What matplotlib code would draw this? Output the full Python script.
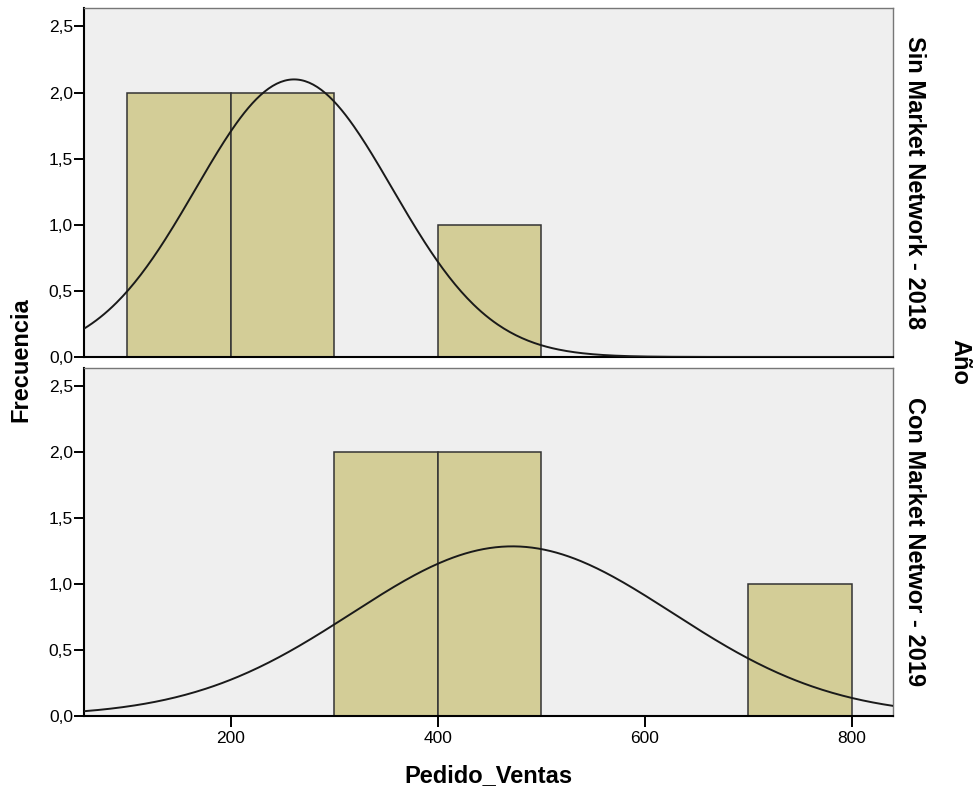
import numpy as np
import matplotlib.pyplot as plt

plt.rcParams['font.family'] = ['Liberation Sans', 'DejaVu Sans']

# histogram bins (Pedido_Ventas) and counts per panel
bin_edges = [100, 200, 300, 400, 500, 600, 700, 800]
counts_2018 = [2, 2, 0, 1, 0, 0, 0]
counts_2019 = [0, 0, 2, 2, 0, 0, 1]

# normal curve parameters (mean, std, n)
mean_2018, std_2018, n_2018 = 261, 95, 5
mean_2019, std_2019, n_2019 = 472, 155, 5

panel_labels = ["Sin Market Network - 2018", "Con Market Networ - 2019"]
yticks = [0.0, 0.5, 1.0, 1.5, 2.0, 2.5]
xticks = [200, 400, 600, 800]

bar_color = '#d3cd97'
bg_color = '#efefef'

fig = plt.figure(figsize=(9.76, 7.91), dpi=100)
ax1 = fig.add_axes([0.0861, 0.5487, 0.829, 0.4412])
ax2 = fig.add_axes([0.0861, 0.0948, 0.829, 0.4400])

xs = np.linspace(58, 840, 400)
panels = [(ax1, counts_2018, mean_2018, std_2018, n_2018),
          (ax2, counts_2019, mean_2019, std_2019, n_2019)]
for i, (ax, counts, mu, sd, n) in enumerate(panels):
    ax.set_facecolor(bg_color)
    widths = np.diff(bin_edges)
    for left, w, c in zip(bin_edges[:-1], widths, counts):
        if c > 0:
            ax.bar(left, c, width=w, align='edge', color=bar_color,
                   edgecolor='#333333', linewidth=1.1, zorder=2)
    bw = widths[0]
    curve = n * bw / (sd * np.sqrt(2 * np.pi)) * np.exp(-0.5 * ((xs - mu) / sd) ** 2)
    ax.plot(xs, curve, color='#1a1a1a', linewidth=1.4, zorder=3)
    ax.set_xlim(58, 840)
    ax.set_ylim(0, 2.64)
    ax.set_yticks(yticks)
    ax.set_yticklabels([("%.1f" % v).replace('.', ',') for v in yticks], fontsize=12.5)
    ax.tick_params(axis='y', direction='out', length=7, width=1.4, color='black', pad=1)
    for s in ['left', 'bottom']:
        ax.spines[s].set_color('black')
        ax.spines[s].set_linewidth(1.5)
    for s in ['top', 'right']:
        ax.spines[s].set_color('#777777')
        ax.spines[s].set_linewidth(1.0)
    ax.text(1.027, 0.5, panel_labels[i], transform=ax.transAxes, rotation=-90,
            ha='center', va='center', fontsize=17, fontweight='bold')

ax1.set_xticks([])
ax2.set_xticks(xticks)
ax2.set_xticklabels([str(v) for v in xticks], fontsize=12.5)
ax2.tick_params(axis='x', direction='out', length=8, width=1.4, color='black', pad=3)

fig.text(0.5, 0.02, "Pedido_Ventas", ha='center', va='center',
         fontsize=17, fontweight='bold')
fig.text(0.021, 0.545, "Frecuencia", rotation=90, ha='center', va='center',
         fontsize=17, fontweight='bold')
fig.text(0.983, 0.542, "Año", rotation=-90, ha='center', va='center',
         fontsize=17, fontweight='bold')

fig.savefig("out.png", dpi=100, facecolor='white')
